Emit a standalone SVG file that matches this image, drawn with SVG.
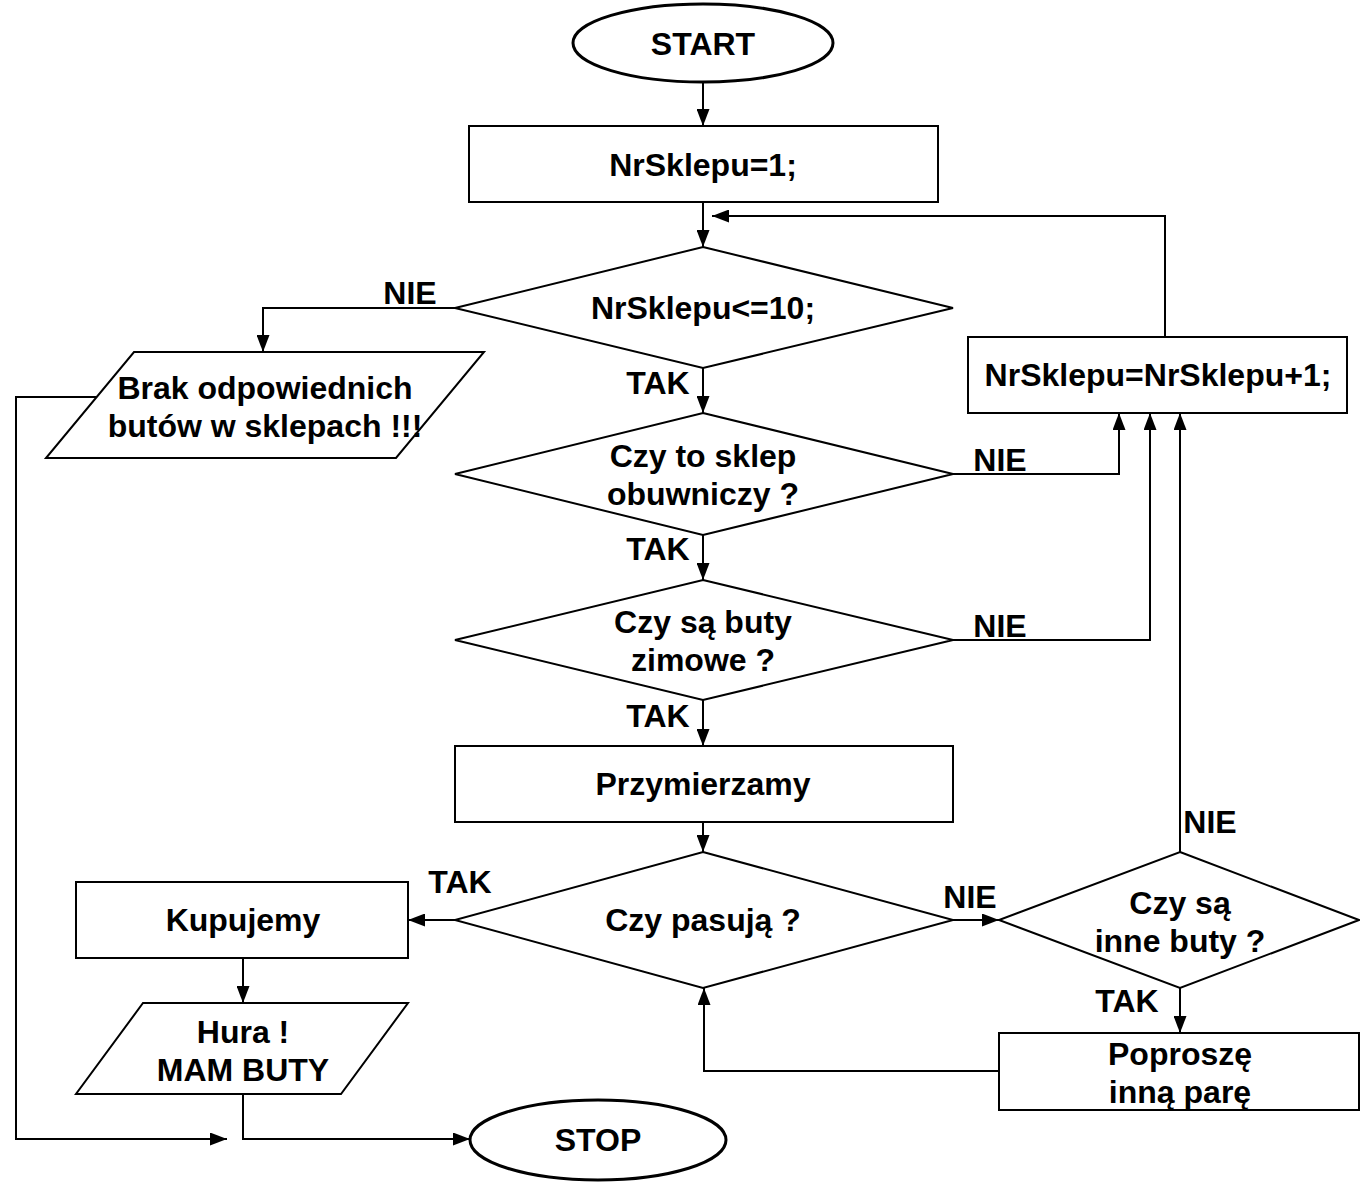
<svg xmlns="http://www.w3.org/2000/svg" width="1360" height="1183" viewBox="0 0 1360 1183">
<style>
.s{fill:#fff;stroke:#000;stroke-width:2}
.o{fill:#fff;stroke:#000;stroke-width:3}
.c{fill:none;stroke:#000;stroke-width:2}
text{font-family:"Liberation Sans",Arial,sans-serif;font-weight:bold;font-size:32px;fill:#000}
.m{text-anchor:middle}
</style>
<defs>
<marker id="a" viewBox="0 0 17 13" markerUnits="userSpaceOnUse" markerWidth="17" markerHeight="13" refX="17" refY="6.5" orient="auto">
<path d="M0,0 L17,6.5 L0,13 z" fill="#000"/>
</marker>
</defs>
<g id="connectors">
<path class="c" marker-end="url(#a)" d="M703,82 V126"/>
<path class="c" marker-end="url(#a)" d="M703,202 V247"/>
<path class="c" marker-end="url(#a)" d="M455,308 H263 V352"/>
<path class="c" marker-end="url(#a)" d="M703,368 V413"/>
<path class="c" marker-end="url(#a)" d="M953,474 H1119 V413"/>
<path class="c" marker-end="url(#a)" d="M703,535 V580"/>
<path class="c" marker-end="url(#a)" d="M953,640 H1150 V413"/>
<path class="c" marker-end="url(#a)" d="M703,700 V746"/>
<path class="c" marker-end="url(#a)" d="M703,822 V852"/>
<path class="c" marker-end="url(#a)" d="M455,920 H408"/>
<path class="c" marker-end="url(#a)" d="M953,920 H999"/>
<path class="c" marker-end="url(#a)" d="M1180,852 V413"/>
<path class="c" marker-end="url(#a)" d="M1180,988 V1033"/>
<path class="c" marker-end="url(#a)" d="M999,1071 H704 V988"/>
<path class="c" marker-end="url(#a)" d="M1165,337 V216 H712"/>
<path class="c" marker-end="url(#a)" d="M243,958 V1003"/>
<path class="c" marker-end="url(#a)" d="M243,1094 V1139 H470"/>
<path class="c" marker-end="url(#a)" d="M97,397 H16 V1139 H227"/>
<text class="m" x="410" y="304">NIE</text>
<text class="m" x="658" y="394">TAK</text>
<text class="m" x="1000" y="471">NIE</text>
<text class="m" x="658" y="560">TAK</text>
<text class="m" x="1000" y="637">NIE</text>
<text class="m" x="658" y="727">TAK</text>
<text class="m" x="460" y="893">TAK</text>
<text class="m" x="970" y="908">NIE</text>
<text class="m" x="1210" y="833">NIE</text>
<text class="m" x="1127" y="1012">TAK</text>
</g>
<g id="start">
<ellipse class="o" cx="703" cy="43" rx="130" ry="39"/>
<text class="m" x="703" y="55">START</text>
</g>
<g id="init">
<rect class="s" x="469" y="126" width="469" height="76"/>
<text class="m" x="703" y="176">NrSklepu=1;</text>
</g>
<g id="cond-loop">
<polygon class="s" points="703,247 953,308 703,368 455,308"/>
<text class="m" x="703" y="319">NrSklepu&lt;=10;</text>
</g>
<g id="no-shoes">
<polygon class="s" points="134,352 484,352 396,458 46,458"/>
<text class="m" x="265" y="399">Brak odpowiednich</text>
<text class="m" x="265" y="437">butów w sklepach !!!</text>
</g>
<g id="increment">
<rect class="s" x="968" y="337" width="379" height="76"/>
<text class="m" x="1158" y="386">NrSklepu=NrSklepu+1;</text>
</g>
<g id="cond-shoe-shop">
<polygon class="s" points="703,413 953,474 703,535 455,474"/>
<text class="m" x="703" y="467">Czy to sklep</text>
<text class="m" x="703" y="505">obuwniczy ?</text>
</g>
<g id="cond-winter">
<polygon class="s" points="703,580 953,640 703,700 455,640"/>
<text class="m" x="703" y="633">Czy są buty</text>
<text class="m" x="703" y="671">zimowe ?</text>
</g>
<g id="try-on">
<rect class="s" x="455" y="746" width="498" height="76"/>
<text class="m" x="703" y="795">Przymierzamy</text>
</g>
<g id="cond-fit">
<polygon class="s" points="703,852 953,920 703,988 455,920"/>
<text class="m" x="703" y="931">Czy pasują ?</text>
</g>
<g id="cond-other">
<polygon class="s" points="1180,852 1359,920 1180,988 999,920"/>
<text class="m" x="1180" y="914">Czy są</text>
<text class="m" x="1180" y="952">inne buty ?</text>
</g>
<g id="ask-other">
<rect class="s" x="999" y="1033" width="360" height="77"/>
<text class="m" x="1180" y="1065">Poproszę</text>
<text class="m" x="1180" y="1103">inną parę</text>
</g>
<g id="buy">
<rect class="s" x="76" y="882" width="332" height="76"/>
<text class="m" x="243" y="931">Kupujemy</text>
</g>
<g id="hura">
<polygon class="s" points="143,1003 408,1003 341,1094 76,1094"/>
<text class="m" x="243" y="1043">Hura !</text>
<text class="m" x="243" y="1081">MAM BUTY</text>
</g>
<g id="stop">
<ellipse class="o" cx="598" cy="1140" rx="128" ry="40"/>
<text class="m" x="598" y="1151">STOP</text>
</g>
</svg>
